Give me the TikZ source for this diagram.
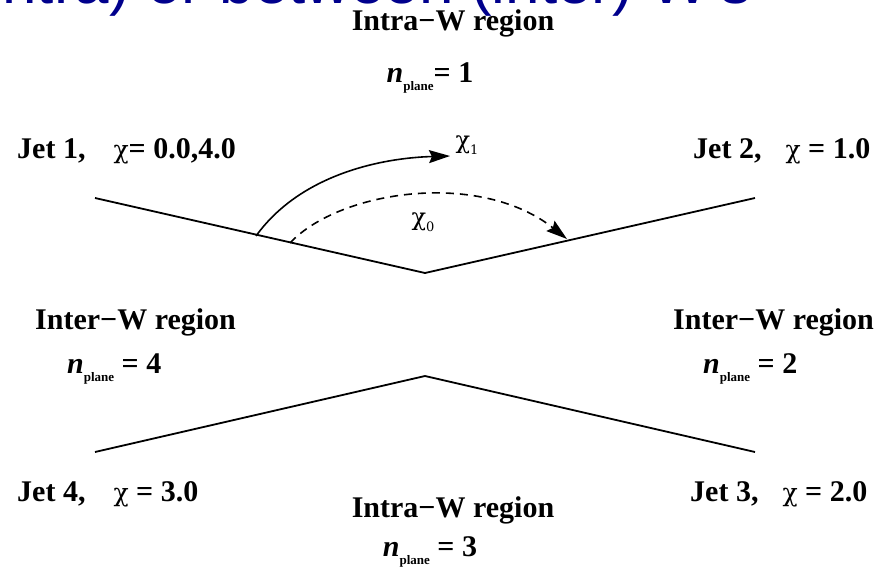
\documentclass[tikz,border=0pt]{standalone}
\usepackage{fontspec}
\setmainfont{Liberation Serif}
\newfontfamily\bluefont{Liberation Sans}
\newfontfamily\chifont{DejaVu Serif}
\usetikzlibrary{arrows.meta}
\definecolor{navytitle}{RGB}{0,0,140}
\tikzset{
  lbl/.style={inner sep=0pt, font=\fontsize{30}{32}\selectfont\bfseries},
  chilbl/.style={inner sep=0pt, font=\chifont\fontsize{24}{26}\selectfont},
  jetline/.style={line width=1.8pt, line join=miter},
  arc/.style={line width=1.6pt, -{Stealth[length=21pt,width=13pt,inset=3pt]}},
}
\newcommand{\nplane}[1]{\textit{n}\raisebox{-8pt}{\fontsize{13}{14}\selectfont plane}#1}
\newcommand{\chisym}{{\chifont\mdseries\fontsize{25}{26}\selectfont χ}}
\begin{document}
\begin{tikzpicture}[x=1pt,y=-1pt]
\useasboundingbox (0,0) rectangle (880,567);
\begin{scope}
\clip (0,0) rectangle (880,567);
\node[anchor=base east, inner sep=0pt, text=navytitle, font=\bluefont\fontsize{62}{64}\selectfont] (title) at (752,4) {within (intra) or between (inter) W's};
\end{scope}
% lines
\coordinate (a1) at (95,198);
\coordinate (a2) at (425,273);
\coordinate (a3) at (755,198);
\coordinate (b1) at (95,452);
\coordinate (b2) at (425,376);
\coordinate (b3) at (755,452);
\draw[jetline] (a1) -- (a2) -- (a3);
\draw[jetline] (b1) -- (b2) -- (b3);
% arcs
\coordinate (s1) at (256,236);
\coordinate (e1) at (450,156);
\coordinate (s0) at (290,243);
\coordinate (e0) at (567,239);
\draw[arc] (s1) .. controls (300,175) and (380,158) .. (e1);
\draw[arc, dash pattern=on 8pt off 6pt] (s0) .. controls (340,190) and (480,170) .. (e0);
\node[chilbl] (chi1) at (467,145) {χ\raisebox{-6pt}{\fontsize{13}{13}\selectfont 1}};
\node[chilbl] (chi0) at (423,222) {χ\raisebox{-6pt}{\fontsize{13}{13}\selectfont 0}};
% labels
\node[lbl, anchor=base] (intraT) at (453,31) {Intra−W region};
\node[lbl, anchor=base] (nT) at (430,83) {\nplane{= 1}};
\node[lbl, anchor=base west] (jet1) at (17,158) {Jet 1,\hspace{28pt}\chisym= 0.0,4.0};
\node[lbl, anchor=base west] (jet2) at (693,158) {Jet 2,\hspace{24pt}\chisym{} = 1.0};
\node[lbl, anchor=base west] (interL) at (35,329) {Inter−W region};
\node[lbl, anchor=base west] (interR) at (673,329) {Inter−W region};
\node[lbl, anchor=base west] (nL) at (67,373) {\nplane{ = 4}};
\node[lbl, anchor=base west] (nR) at (703,373) {\nplane{ = 2}};
\node[lbl, anchor=base west] (jet4) at (17,501) {Jet 4,\hspace{28pt}\chisym{} = 3.0};
\node[lbl, anchor=base west] (jet3) at (690,501) {Jet 3,\hspace{24pt}\chisym{} = 2.0};
\node[lbl, anchor=base] (intraB) at (453,517) {Intra−W region};
\node[lbl, anchor=base] (nB) at (430,556) {\nplane{ = 3}};
\end{tikzpicture}
\end{document}
